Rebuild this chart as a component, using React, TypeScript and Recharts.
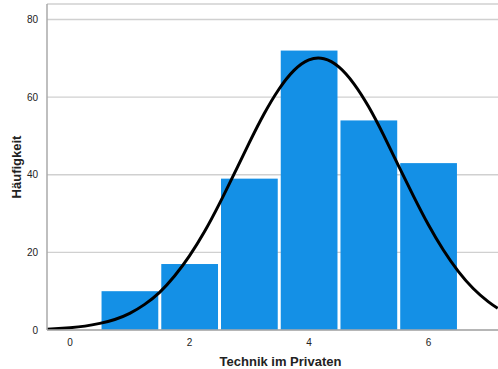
import {
  ComposedChart,
  Bar,
  Line,
  XAxis,
  YAxis,
  CartesianGrid,
} from "recharts";

// Histogram bins (score -> count)
const binCenters = [1, 2, 3, 4, 5, 6];
const binCounts = [10, 17, 39, 72, 54, 43];

// Normal curve
const curveX = [
  -0.38, 0, 0.25, 0.5, 0.75, 1, 1.25, 1.5, 1.75, 2, 2.25, 2.5, 2.75, 3, 3.25,
  3.5, 3.75, 4, 4.25, 4.5, 4.75, 5, 5.25, 5.5, 5.75, 6, 6.25, 6.5, 6.75, 7, 7.16,
];
const curveY = [
  0.2, 0.6, 1.0, 1.7, 2.7, 4.3, 6.6, 9.7, 13.9, 19.1, 25.3, 32.5, 40.3, 48.2,
  55.7, 62.1, 66.9, 69.6, 69.9, 67.8, 63.5, 57.5, 50.2, 42.3, 34.5, 27.1, 20.6,
  15.1, 10.7, 7.3, 5.6,
];

const xTicks = [0, 2, 4, 6];
const yTicks = [0, 20, 40, 60, 80];
const xDomain = [-0.385, 7.165];

const barData = binCenters.map((x, i) => ({ x, count: binCounts[i] }));
const curveData = curveX.map((x, i) => ({ x, curve: curveY[i] }));

const CHART_W = 498;
const Y_AXIS_W = 47;
// one bin is one x unit wide, leave a thin white gap between bins
const unitPx = (CHART_W - Y_AXIS_W) / (xDomain[1] - xDomain[0]);

const tickStyle = { fontSize: 10, fill: "#222", fontFamily: "Arial, Liberation Sans" };

const BinShape = (props: any) => {
  const { x, y, width, height } = props;
  const cx = x + width / 2;
  const w = unitPx - 3;
  return (
    <rect x={cx - w / 2} y={y} width={w} height={height} fill="#1490e6" />
  );
};

export default function App() {
  return (
    <div style={{ position: "absolute", left: 0, top: 0, background: "#fff" }}>
      <ComposedChart
        width={CHART_W}
        height={369}
        data={barData}
        margin={{ top: 4, right: 0, bottom: 0, left: 0 }}
      >
        <CartesianGrid vertical={false} stroke="#d0d0d0" strokeWidth={1.3} />
        <XAxis
          dataKey="x"
          type="number"
          domain={xDomain}
          ticks={xTicks}
          allowDataOverflow
          tickLine={false}
          axisLine={{ stroke: "#aaa", strokeWidth: 1.5 }}
          height={39}
          tick={tickStyle}
          tickMargin={3}
          label={{
            value: "Technik im Privaten",
            position: "insideBottom",
            offset: 3,
            dx: 8,
            style: { fontSize: 13, fontWeight: "bold", fill: "#222", fontFamily: "Arial, Liberation Sans" },
          }}
        />
        <YAxis
          type="number"
          domain={[0, 84]}
          ticks={yTicks}
          allowDataOverflow
          tickLine={false}
          axisLine={{ stroke: "#aaa", strokeWidth: 1.5 }}
          width={Y_AXIS_W}
          tick={tickStyle}
          tickMargin={3}
          label={{
            value: "Häufigkeit",
            angle: -90,
            position: "insideLeft",
            offset: 16,
            style: { textAnchor: "middle", fontSize: 13, fontWeight: "bold", fill: "#222", fontFamily: "Arial, Liberation Sans" },
          }}
        />
        <Bar
          dataKey="count"
          fill="#1490e6"
          shape={BinShape}
          isAnimationActive={false}
        />
        <Line
          data={curveData}
          dataKey="curve"
          type="natural"
          stroke="#000"
          strokeWidth={3}
          dot={false}
          isAnimationActive={false}
        />
      </ComposedChart>
    </div>
  );
}
